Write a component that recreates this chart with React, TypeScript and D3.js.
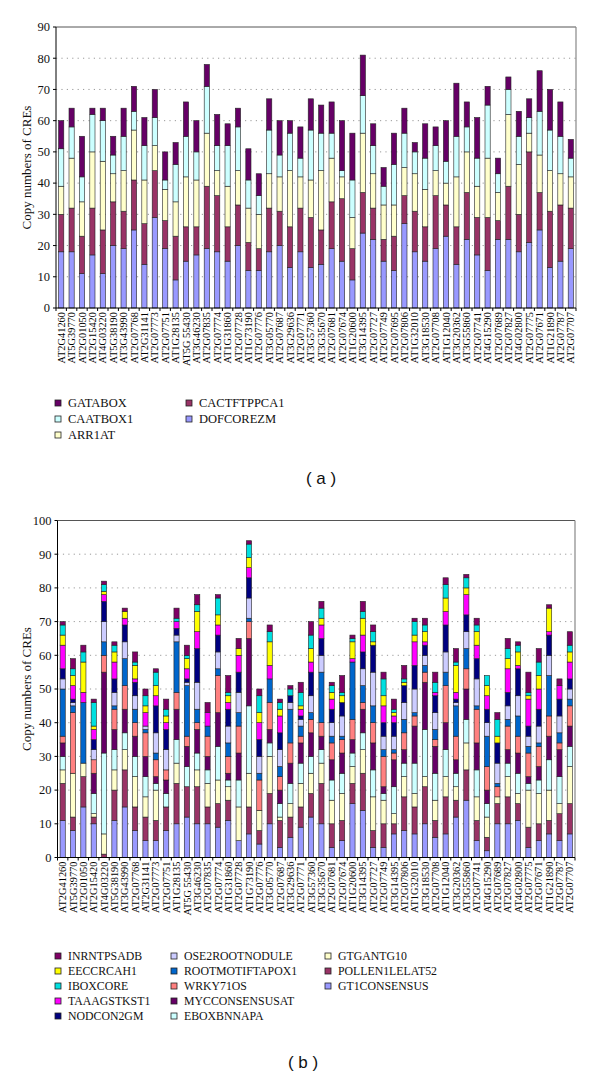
import React from 'react';
import * as d3 from 'd3';

// ---------- Chart (a) ----------
const genesA = ['AT2G41260','AT5G39770','AT2G01050','AT2G15420','AT4G03220','AT5G38190','AT3G43990','AT2G07768','AT2G31141','AT2G07773','AT2G07751','AT1G28135','AT5G 55430','AT3G46230','AT2G07835','AT2G07774','AT1G31860','AT2G07728','AT1G73190','AT2G07776','AT3G05770','AT2G07687','AT3G29636','AT2G07771','AT3G57360','AT3G35670','AT2G07681','AT2G07674','AT1G20600','AT3G14395','AT2G07727','AT2G07749','AT2G07695','AT2G07806','AT1G32010','AT3G18530','AT2G07708','AT1G12040','AT3G20362','AT3G55860','AT2G07741','AT4G15290','AT2G07689','AT2G07827','AT4G02800','AT2G07775','AT2G07671','AT1G21890','AT2G07787','AT2G07707'];

const dofcorezm = [18,18,11,17,11,20,19,25,14,29,19,9,15,17,19,18,15,20,12,12,18,20,13,18,13,14,19,15,9,24,22,15,12,27,18,15,19,23,14,22,17,12,22,22,18,21,25,13,15,19];
const cactftppca1 = [12,14,12,15,14,14,12,16,13,15,9,14,11,9,20,18,11,13,9,7,14,11,13,14,16,11,15,20,10,13,10,7,11,9,13,11,17,10,12,15,12,17,6,17,12,29,12,18,18,13];
const arr1at = [9,16,11,18,22,9,13,16,14,8,10,11,16,15,17,8,13,11,11,11,11,11,18,10,12,19,14,7,10,19,11,11,10,9,12,12,8,7,16,13,10,19,9,23,16,6,12,13,10,10];
const caatbox1 = [12,10,8,12,13,6,11,6,11,9,3,12,13,9,15,8,13,14,9,6,14,7,12,6,16,12,8,2,12,12,9,6,13,11,7,10,8,7,13,8,9,17,6,8,9,5,14,13,12,6];
const gatabox = [9,6,13,2,4,6,9,8,9,9,9,7,11,10,7,10,7,6,10,7,10,11,4,10,10,9,10,16,15,13,7,6,10,8,3,11,6,13,17,8,13,6,5,4,8,6,13,13,11,6];

const ticksA = [0,10,20,30,40,50,60,70,80,90];

// ---------- Chart (b) ----------
const genesB = ['AT2G41260','AT5G39770','AT2G01050','AT2G15420','AT4G03220','AT5G38190','AT3G43990','AT2G07768','AT2G31141','AT2G07773','AT2G07751','AT1G28135','AT5G 55430','AT3G46230','AT2G07835','AT2G07774','AT1G31860','AT2G07728','AT1G73190','AT2G07776','AT3G05770','AT2G07687','AT3G29636','AT2G07771','AT3G57360','AT3G35670','AT2G07681','AT2G07674','AT1G20600','AT3G14395','AT2G07727','AT2G07749','AT3G14395','AT2G07806','AT1G32010','AT3G18530','AT2G07708','AT1G12040','AT3G20362','AT3G55860','AT2G07741','AT4G15290','AT2G07689','AT2G07827','AT4G02800','AT2G07775','AT2G07671','AT1G21890','AT2G07787','AT2G07707'];

const gt1consensus = [11,8,15,10,0,11,15,8,5,5,8,10,12,10,10,9,11,5,7,4,10,3,6,9,12,10,3,5,16,14,3,3,7,8,7,10,6,7,12,17,5,2,10,10,11,3,5,7,5,7];
const pollen1lelat52 = [11,4,9,2,1,9,11,7,7,6,7,12,9,11,5,7,6,0,8,4,9,8,6,6,7,12,7,6,6,11,5,7,3,10,8,11,5,11,5,9,6,4,6,8,5,6,5,4,8,9];
const gtgantg10 = [4,13,4,1,6,6,6,9,6,9,0,6,0,5,7,7,4,10,10,6,11,1,4,7,6,6,7,8,5,7,10,7,3,6,4,3,6,6,4,8,7,6,2,6,3,11,9,9,3,11];
const eboxbnnapa = [4,0,0,6,24,6,5,6,6,2,4,7,6,5,4,10,2,8,20,0,4,4,6,6,5,4,6,6,4,5,8,2,8,4,9,14,8,8,4,7,8,4,0,4,6,2,4,9,8,6];
const mycconsensusat = [4,0,0,6,24,6,7,6,6,2,4,9,6,7,4,10,2,8,20,0,4,4,6,6,7,4,6,6,4,7,8,2,8,4,11,14,8,8,4,9,8,4,0,4,6,2,4,7,8,6];
const wrky71os = [2,18,0,4,5,6,7,4,7,5,3,5,3,2,6,11,5,8,5,9,8,4,6,2,4,4,5,4,6,2,6,9,2,5,3,3,2,11,7,6,10,7,3,7,5,7,6,6,2,6];
const rootmotiftapox1 = [14,2,18,0,4,1,8,4,1,2,0,15,15,4,3,2,4,4,1,2,7,3,10,3,2,15,2,1,17,5,5,2,1,4,1,2,3,4,9,6,1,9,1,2,6,2,1,12,3,2];
const ose2rootnodule = [3,1,0,3,6,4,5,4,1,6,6,2,1,8,0,5,5,6,6,5,0,5,2,2,5,5,4,6,0,5,10,4,4,5,7,3,5,6,1,5,8,4,6,4,6,3,5,6,5,3];
const nodcon2gm = [3,1,0,3,6,4,5,4,0,8,6,2,1,10,0,5,5,6,6,5,0,5,2,1,7,5,4,4,0,5,8,4,4,5,7,3,5,8,1,5,6,4,6,4,8,3,5,6,5,3];
const taaagstkst1 = [7,4,3,3,2,5,2,1,4,3,2,2,3,5,4,3,2,5,3,5,4,5,0,2,3,4,3,0,1,5,0,5,2,0,7,1,1,4,2,6,4,4,0,7,1,8,6,1,4,5];
const eeccrcah1 = [3,3,9,1,1,3,2,4,2,3,2,0,3,6,0,3,2,2,3,3,7,2,0,1,4,2,2,2,5,5,1,3,1,1,2,3,0,4,8,2,4,3,2,3,4,1,4,7,0,3];
const iboxcore = [3,2,3,7,2,2,0,1,3,4,2,1,1,2,0,5,1,0,4,5,3,2,2,4,4,3,2,1,1,2,3,5,1,1,4,2,3,4,1,3,2,3,5,3,2,1,4,0,0,2];
const inrntpsadb = [1,3,2,1,1,1,1,3,2,1,3,3,3,3,3,1,5,3,1,2,2,1,1,3,4,2,1,5,1,3,2,2,3,4,1,2,3,2,4,1,2,0,2,3,1,6,4,1,2,4];

const ticksB = [0,10,20,30,40,50,60,70,80,90,100];

type Series = { name: string; color: string; values: number[] };

// stacking order: bottom -> top
const seriesA: Series[] = [
  { name: 'DOFCOREZM', color: '#9999ff', values: dofcorezm },
  { name: 'CACTFTPPCA1', color: '#993366', values: cactftppca1 },
  { name: 'ARR1AT', color: '#ffffcc', values: arr1at },
  { name: 'CAATBOX1', color: '#ccffff', values: caatbox1 },
  { name: 'GATABOX', color: '#660066', values: gatabox },
];

const seriesB: Series[] = [
  { name: 'GT1CONSENSUS', color: '#9999ff', values: gt1consensus },
  { name: 'POLLEN1LELAT52', color: '#993366', values: pollen1lelat52 },
  { name: 'GTGANTG10', color: '#ffffcc', values: gtgantg10 },
  { name: 'EBOXBNNAPA', color: '#ccffff', values: eboxbnnapa },
  { name: 'MYCCONSENSUSAT', color: '#660066', values: mycconsensusat },
  { name: 'WRKY71OS', color: '#ff8080', values: wrky71os },
  { name: 'ROOTMOTIFTAPOX1', color: '#0066cc', values: rootmotiftapox1 },
  { name: 'OSE2ROOTNODULE', color: '#ccccff', values: ose2rootnodule },
  { name: 'NODCON2GM', color: '#000080', values: nodcon2gm },
  { name: 'TAAAGSTKST1', color: '#ff00ff', values: taaagstkst1 },
  { name: 'EECCRCAH1', color: '#ffff00', values: eeccrcah1 },
  { name: 'IBOXCORE', color: '#00e0e0', values: iboxcore },
  { name: 'INRNTPSADB', color: '#800066', values: inrntpsadb },
];

const legendA = [['GATABOX', 'CAATBOX1', 'ARR1AT'], ['CACTFTPPCA1', 'DOFCOREZM']];
const legendB = [
  ['INRNTPSADB', 'EECCRCAH1', 'IBOXCORE', 'TAAAGSTKST1', 'NODCON2GM'],
  ['OSE2ROOTNODULE', 'ROOTMOTIFTAPOX1', 'WRKY71OS', 'MYCCONSENSUSAT', 'EBOXBNNAPA'],
  ['GTGANTG10', 'POLLEN1LELAT52', 'GT1CONSENSUS'],
];

const SERIF = '"Liberation Serif", "Times New Roman", serif';

type ChartProps = {
  categories: string[];
  series: Series[];
  ticks: number[];
  yMax: number;
  left: number; right: number; top: number; bottom: number;
  titleX: number;
  legend: string[][];
  legendRows: number[];
  legendCols: number[];
  legendFont: number;
  caption: string; captionX: number; captionY: number;
};

function StackedChart(p: ChartProps) {
  const x = d3.scaleBand<string>()
    .domain(p.categories.map((_, i) => String(i)))
    .range([p.left, p.right])
    .paddingInner(0.5)
    .paddingOuter(0.25);
  const y = d3.scaleLinear().domain([0, p.yMax]).range([p.bottom, p.top]);
  const table = p.categories.map((_, i) => {
    const row: Record<string, number> = {};
    p.series.forEach(s => { row[s.name] = s.values[i]; });
    return row;
  });
  const stacked = d3.stack<Record<string, number>>().keys(p.series.map(s => s.name))(table);
  const step = x.step();
  const colorOf = (n: string) => p.series.find(s => s.name === n)!.color;

  return (
    <g>
      {p.ticks.filter(t => t > 0 && t < p.yMax).map(t => (
        <line key={'g' + t} x1={p.left} x2={p.right} y1={y(t)} y2={y(t)}
          stroke="#999" strokeWidth={1} strokeDasharray="1.2,4.2" />
      ))}
      <line x1={p.left} x2={p.right} y1={p.top} y2={p.top} stroke="#555" strokeWidth={1} />
      <line x1={p.right} x2={p.right} y1={p.top} y2={p.bottom} stroke="#888" strokeWidth={1.2} />
      {stacked.map(layer => (
        <g key={layer.key} fill={colorOf(layer.key)}>
          {layer.map((d, i) => (
            d[1] - d[0] > 0 ? (
              <rect key={i} x={x(String(i))!} width={x.bandwidth()}
                y={y(d[1])} height={y(d[0]) - y(d[1])}
                stroke="#222" strokeWidth={0.6} />
            ) : null
          ))}
        </g>
      ))}
      <line x1={p.left} x2={p.left} y1={p.top} y2={p.bottom} stroke="#000" strokeWidth={1} />
      <line x1={p.left} x2={p.right} y1={p.bottom} y2={p.bottom} stroke="#000" strokeWidth={1} />
      {p.ticks.map(t => (
        <g key={'t' + t}>
          <line x1={p.left - 3} x2={p.left} y1={y(t)} y2={y(t)} stroke="#000" />
          <text x={p.left - 6} y={y(t)} dy="0.35em" textAnchor="end"
            fontFamily={SERIF} fontSize={12.5} fill="#111">{t}</text>
        </g>
      ))}
      {p.categories.map((_, i) => (
        <line key={'xt' + i} x1={p.left + i * step} x2={p.left + i * step}
          y1={p.bottom} y2={p.bottom + 3} stroke="#000" />
      ))}
      <line x1={p.right} x2={p.right} y1={p.bottom} y2={p.bottom + 3} stroke="#000" />
      {p.categories.map((c, i) => {
        const cx = x(String(i))! + x.bandwidth() / 2;
        const ty = p.bottom + 4;
        return (
          <text key={'xl' + i} transform={`translate(${cx},${ty}) rotate(-90)`}
            dy="0.35em" textAnchor="end" fontFamily={SERIF} fontSize={10.4} fill="#000">{c}</text>
        );
      })}
      <text transform={`translate(${p.titleX},${(p.top + p.bottom) / 2}) rotate(-90)`}
        textAnchor="middle" fontFamily={SERIF} fontSize={13} fill="#111">Copy numbers of CREs</text>
      {p.legend.map((col, ci) => col.map((name, ri) => (
        <g key={name}>
          <rect x={p.legendCols[ci] - 3} y={p.legendRows[ri] - 3} width={6} height={6}
            fill={colorOf(name)} stroke="#222" strokeWidth={0.8} />
          <text x={p.legendCols[ci] + 10} y={p.legendRows[ri]} dy="0.35em"
            fontFamily={SERIF} fontSize={p.legendFont} fill="#111">{name}</text>
        </g>
      )))}
      <text x={p.captionX} y={p.captionY} textAnchor="middle"
        fontFamily='"Liberation Sans", Arial, sans-serif' fontSize={17} fill="#111">{p.caption}</text>
    </g>
  );
}

export default function App() {
  return (
    <svg width={600} height={1075} style={{ position: 'absolute', left: 0, top: 0, background: '#fff' }}>
      <rect x={0} y={0} width={600} height={1075} fill="#fff" />
      <StackedChart categories={genesA} series={seriesA} ticks={ticksA} yMax={90}
        left={56} right={576} top={27} bottom={308} titleX={31}
        legend={legendA} legendRows={[403, 419, 435]} legendCols={[58, 189]} legendFont={12.5}
        caption="( a )" captionX={321} captionY={484} />
      <StackedChart categories={genesB} series={seriesB} ticks={ticksB} yMax={100}
        left={57.5} right={575} top={520.5} bottom={857.5} titleX={31}
        legend={legendB} legendRows={[956, 971, 986, 1001, 1016]} legendCols={[58, 174, 328]} legendFont={11.8}
        caption="( b )" captionX={303} captionY={1068} />
    </svg>
  );
}
